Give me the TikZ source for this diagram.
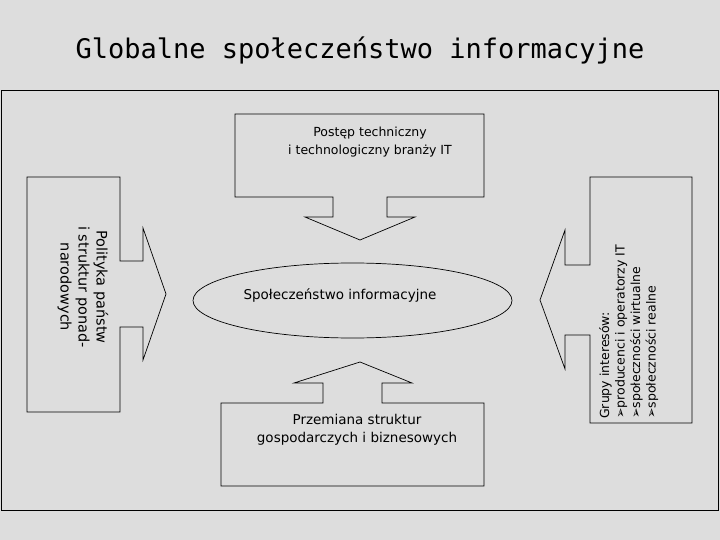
\documentclass[tikz,border=0pt]{standalone}
\usepackage{fontspec}
\usetikzlibrary{shapes.geometric}
\setmainfont{DejaVu Sans}
\newfontfamily\titlefont{DejaVu Sans Mono}
\begin{document}
\begin{tikzpicture}[x=1pt,y=-1pt,
  shp/.style={draw=black,line width=0.7pt,fill=none},
  lbl/.style={font=\fontsize{13.5}{18}\selectfont,align=center,inner sep=0pt}]
\definecolor{bg}{HTML}{DDDDDD}
\fill[bg] (0,0) rectangle (720,540);
\useasboundingbox (0,0) rectangle (720,540);
\node[font=\titlefont\fontsize{27}{32}\selectfont] (title) at (360,50) {Globalne społeczeństwo informacyjne};
\draw[shp] (1,90) rectangle (718,510);
% top callout
\draw[shp] (235,114) -- (484,114) -- (484,197) -- (387,197) -- (387,217) -- (415,217) -- (360,240) -- (305,217) -- (333,217) -- (333,197) -- (235,197) -- cycle;
\node[lbl,font=\fontsize{12.5}{18}\selectfont] (top) at (370,142) {Postęp techniczny\\i technologiczny branży IT};
% bottom callout
\draw[shp] (221,486) -- (484,486) -- (484,403) -- (382,403) -- (382,383) -- (412,383) -- (360,362) -- (294,383) -- (323,383) -- (323,403) -- (221,403) -- cycle;
\node[lbl] (bot) at (357,430) {Przemiana struktur\\gospodarczych i biznesowych};
% left callout
\draw[shp] (27,177) -- (120,177) -- (120,261) -- (143,261) -- (143,228) -- (166,294) -- (143,360) -- (143,327) -- (120,327) -- (120,412) -- (27,412) -- cycle;
\node[lbl,font=\fontsize{14.5}{18}\selectfont,rotate=-90] (left) at (83,287) {Polityka państw\\i struktur ponad-\\narodowych};
% right callout
\draw[shp] (692,177) -- (590,177) -- (590,265) -- (565,265) -- (565,230) -- (540,300) -- (565,369) -- (565,335) -- (590,335) -- (590,423) -- (692,423) -- cycle;
\node[font=\fontsize{12.5}{15.5}\selectfont,align=left,inner sep=0pt,rotate=90,anchor=north west] (right) at (599,419) {Grupy interesów:\\➢producenci i operatorzy IT\\➢społeczności wirtualne\\➢społeczności realne};
% ellipse
\node[draw,ellipse,minimum width=319pt,minimum height=75pt,line width=0.7pt,inner sep=0pt] (ell) at (352.5,300.5) {};
\node[lbl] (etext) at (340,295) {Społeczeństwo informacyjne};
\end{tikzpicture}
\end{document}
